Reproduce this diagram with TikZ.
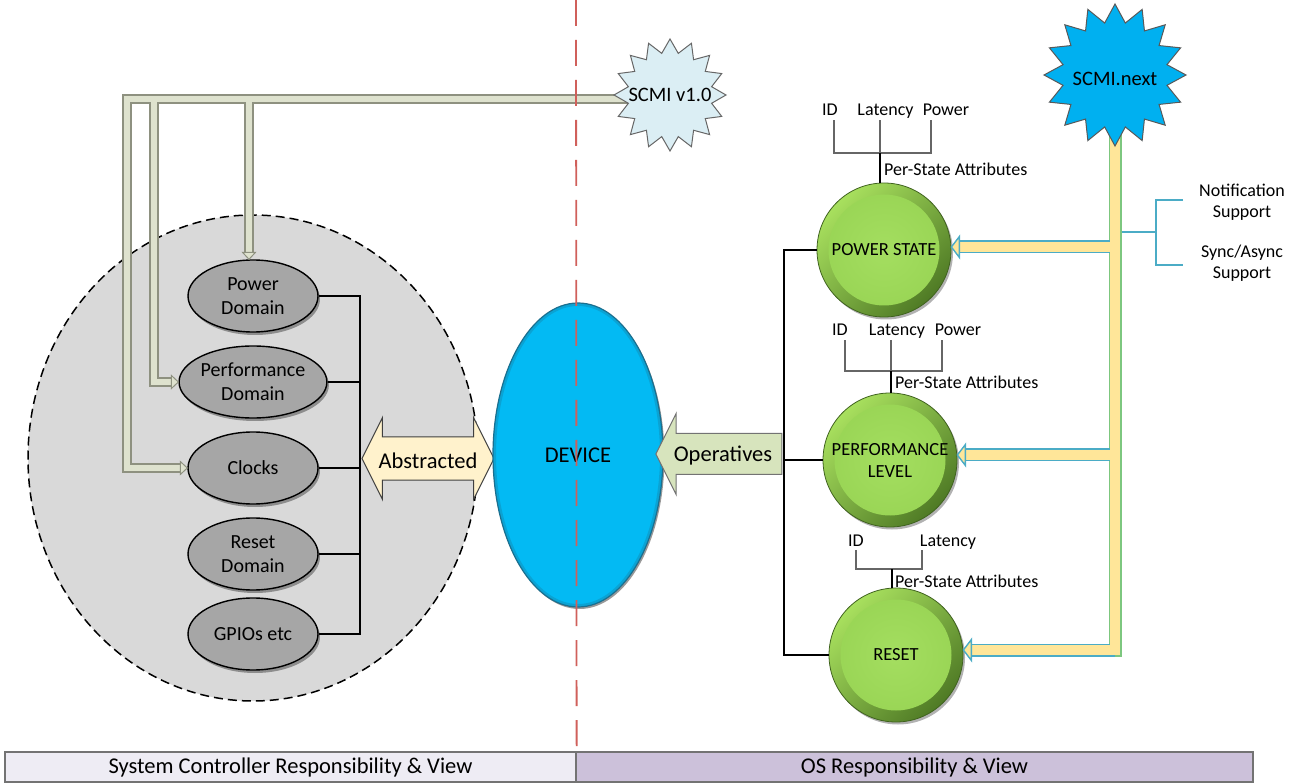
\documentclass[tikz,border=0pt]{standalone}
\usepackage{fontspec}
\setmainfont{Carlito}
\usetikzlibrary{shapes.geometric,shapes.arrows,shadows,calc}
\definecolor{bigfill}{HTML}{D9D9D9}
\definecolor{ellfill}{HTML}{A6A6A6}
\definecolor{devfill}{HTML}{03BAF3}
\definecolor{devedge}{HTML}{1B6F8F}
\definecolor{abfill}{HTML}{FFF2CC}
\definecolor{opfill}{HTML}{D7E4BD}
\definecolor{pipefill}{HTML}{DEE2CE}
\definecolor{pipeedge}{HTML}{8E9180}
\definecolor{ypipe}{HTML}{FFE699}
\definecolor{ygreen}{HTML}{7DC77F}
\definecolor{yblue}{HTML}{4BACC6}
\definecolor{nextfill}{HTML}{00B0F0}
\definecolor{v1fill}{HTML}{DBEEF4}
\definecolor{barL}{HTML}{EEECF4}
\definecolor{barR}{HTML}{CCC1DA}
\definecolor{redline}{HTML}{D0605B}
\definecolor{glight}{HTML}{A8E05E}
\definecolor{gdark}{HTML}{4F7A25}
\definecolor{ginner}{HTML}{98D454}
\definecolor{ginner2}{HTML}{A4DE60}
\begin{document}
\begin{tikzpicture}[x=1pt,y=-1pt,
  lbl/.style={inner sep=0pt, font=\fontsize{18}{21}\selectfont},
  attr/.style={lbl, text height=12pt, text depth=4pt},
  mlbl/.style={inner sep=0pt, align=center, font=\fontsize{18}{20.5}\selectfont},
  bigtxt/.style={inner sep=0pt, font=\fontsize{22.5}{26}\selectfont},
  scregion/.style={ellipse, draw=black, dash pattern=on 9pt off 5pt, line width=1.5pt, fill=bigfill, minimum width=450pt, minimum height=486pt, inner sep=0pt},
  comp/.style={ellipse, draw=black, line width=1.4pt, fill=ellfill, minimum width=130pt, minimum height=72pt, inner sep=0pt, align=center, font=\fontsize{20}{24}\selectfont, drop shadow={shadow xshift=2pt, shadow yshift=-3pt, opacity=0.35, fill=black}},
  bus/.style={draw=black, line width=1.4pt},
  rbus/.style={draw=black, line width=2pt},
  brk/.style={draw=black!60, line width=1.1pt},
  stem/.style={draw=black, line width=1.4pt},
  pipeout/.style={draw=pipeedge, line width=9.5pt},
  pipein/.style={draw=pipefill, line width=6.5pt},
  pipehead/.style={fill=pipefill, draw=pipeedge, line width=1pt, line join=miter},
  yout/.style={draw=ygreen, line width=13pt},
  youtb/.style={draw=yblue, line width=13pt},
  yin/.style={draw=ypipe, line width=10pt},
  yhead/.style={fill=ypipe, draw=yblue, line width=1.4pt},
  bluebr/.style={draw=yblue, line width=1.6pt},
  device/.style={ellipse, minimum width=170pt, minimum height=304pt, inner sep=0pt, fill=devfill, draw=devedge, line width=1.2pt, font=\fontsize{22.5}{26}\selectfont,
    path picture={
      \draw[devedge, line width=6pt, opacity=0.3] (path picture bounding box.center) ellipse[x radius=85pt, y radius=152pt];
    },
    drop shadow={shadow xshift=1.5pt, shadow yshift=-2pt, opacity=0.4, fill=black}},
  dblarrow/.style={double arrow, double arrow head extend=19.5pt, double arrow tip angle=127, minimum height=132pt, minimum width=81pt, inner xsep=0pt, inner ysep=21pt, fill=abfill, draw=black!75, line width=1pt},
  oparrow/.style={single arrow, shape border rotate=180, single arrow head extend=20pt, single arrow tip angle=127, minimum height=126pt, minimum width=80pt, inner xsep=0pt, inner ysep=20pt, fill=opfill, draw=black!55, line width=1pt},
  gcirc/.style={circle, minimum size=134pt, inner sep=0pt, draw=gdark!80!black, line width=0.8pt, top color=glight, bottom color=gdark, shading angle=45, align=center, font=\fontsize{18.5}{22}\selectfont, path picture={\shade[inner color=ginner2, outer color=ginner] (path picture bounding box.center) circle[radius=55.5pt];}, drop shadow={shadow xshift=2pt, shadow yshift=-2.5pt, opacity=0.3, fill=black}},
  starv/.style={star, star points=16, star point ratio=1.32, minimum size=112pt, inner sep=0pt, fill=v1fill, draw=black!60, line width=1pt},
  starn/.style={star, star points=16, star point ratio=1.34, minimum size=142pt, inner sep=0pt, fill=nextfill, draw=black!65, line width=1pt},
  startxt/.style={inner sep=0pt, font=\fontsize{20.5}{24}\selectfont},
  barl/.style={rectangle, minimum width=571pt, minimum height=30pt, inner sep=0pt, fill=barL, draw=black!55, line width=1.3pt, font=\fontsize{22.5}{26}\selectfont},
  barr/.style={barl, minimum width=677pt, fill=barR},
  divider/.style={draw=redline, line width=1.8pt, dash pattern=on 26pt off 14pt},
]
\useasboundingbox (0,0) rectangle (1299,783);

% System controller region
\node[scregion] (sc) at (253,458) {};

\node[comp] (pwr) at (253,296) {Power\\Domain};
\node[comp] (perf) at (253,382) {Performance\\Domain};
\node[comp] (clk) at (253,468) {Clocks};
\node[comp] (rst) at (253,554) {Reset\\Domain};
\node[comp] (gpio) at (253,634) {GPIOs etc};

\coordinate (lb) at (360,0);
\draw[bus] (pwr.east) -- (lb |- pwr.east) -- (lb |- gpio.east) -- (gpio.east);
\foreach \n in {perf,clk,rst} \draw[bus] (\n.east) -- (lb |- \n.east);

% pipes from SCMI v1.0
\coordinate (v1c) at (670,95);
\coordinate (c1) at (127,99);
\coordinate (c2) at (154,99);
\coordinate (c3) at (249,99);
\foreach \s in {pipeout,pipein}{
  \draw[\s] (v1c |- c1) -- (c1) |- ($(clk.west)+(-7,0)$);
  \draw[\s] (c2) |- ($(perf.west)+(-7,0)$);
  \draw[\s] (c3) -- ($(c3 |- pwr.north)+(0,-7)$);
}
\filldraw[pipehead] (clk.west) -- ++(-7,-6.5) -- ++(0,13) -- cycle;
\filldraw[pipehead] (perf.west) -- ++(-7,-6.5) -- ++(0,13) -- cycle;
\filldraw[pipehead] (c3 |- pwr.north) -- ++(-6.5,-7) -- ++(13,0) -- cycle;

\node[starv] (v1) at (v1c) {};
\node[startxt] (v1t) at (v1.center) {SCMI v1.0};

% Abstracted / device / operatives
\node[dblarrow] (abs) at (428,458.5) {};
\node[bigtxt, anchor=base] (abst) at ($(abs.center)+(0,9.5)$) {Abstracted};
\node[device] (dev) at (578,455) {DEVICE};
\node[oparrow] (ops) at (724,454) {};
\node[bigtxt, anchor=base] (opst) at ($(ops.center)+(-1,8)$) {Operatives};

% OS side circles
\node[gcirc] (ps) at (884,250) {POWER STATE};
\node[gcirc] (pl) at (890,460) {PERFORMANCE\\LEVEL};
\node[gcirc] (rs) at (896,655) {RESET};

\coordinate (rb) at (784,0);
\draw[rbus] (ps.west) -- (rb |- ps.west) -- (rb |- rs.west) -- (rs.west);
\draw[rbus] (pl.west) -- (rb |- pl.west);

% attribute trees
\node[attr] (id1) at (830,112) {ID};
\node[attr] (la1) at (885.5,112) {Latency};
\node[attr] (pw1) at (946,112) {Power};
\coordinate (j1) at (880,153);
\draw[brk] ($(id1.south)+(4,0)$) |- (j1) -| ($(pw1.south)+(-15,0)$);
\draw[brk] (j1) -- (j1 |- la1.south);
\draw[stem] (j1) -- (j1 |- ps.north);
\node[lbl, anchor=base west] (pa1) at (884,176) {Per-State Attributes};

\node[attr] (id2) at (840,332) {ID};
\node[attr] (la2) at (897,332) {Latency};
\node[attr] (pw2) at (958,332) {Power};
\coordinate (j2) at (891,371);
\draw[brk] ($(id2.south)+(5,0)$) |- (j2) -| ($(pw2.south)+(-16,0)$);
\draw[brk] (j2) -- (j2 |- la2.south);
\draw[stem] (j2) -- (j2 |- pl.north);
\node[lbl, anchor=base west] (pa2) at (895,389) {Per-State Attributes};

\node[attr] (id3) at (856,542) {ID};
\node[attr] (la3) at (948,542) {Latency};
\coordinate (j3) at (892,569);
\draw[brk] (id3.south) |- (j3) -| ($(la3.south)+(-26,0)$);
\draw[stem] (j3) -- (j3 |- rs.north);
\node[lbl, anchor=base west] (pa3) at (895,587) {Per-State Attributes};

% SCMI.next pipes
\coordinate (nx) at (1115,75);
\coordinate (bps) at ($(ps.east)+(0,-3)$);
\coordinate (bpl) at ($(pl.east)+(0,-5)$);
\coordinate (brs) at ($(rs.east)+(0,-5)$);
\draw[yout, line cap=rect] (nx) -- (nx |- brs);
\foreach \b in {bps,bpl,brs} \draw[youtb] (nx |- \b) -- ($(\b)+(8,0)$);
\draw[yin, line cap=rect] (nx) -- (nx |- brs);
\foreach \b in {bps,bpl,brs} \draw[yin] (nx |- \b) -- ($(\b)+(8,0)$);
\foreach \b in {bps,bpl,brs} \filldraw[yhead] (\b) -- ++(8,-10.5) -- ++(0,21) -- cycle;

\node[starn] (next) at (nx) {};
\node[startxt] (nextt) at ($(next.center)+(0,4)$) {SCMI.next};

% notification bracket
\node[mlbl] (nt) at (1242,202) {Notification\\Support};
\node[mlbl] (sy) at (1242,263) {Sync/Async\\Support};
\coordinate (bk) at (1156,232);
\coordinate (armx) at (1183,0);
\draw[bluebr] ($(nx |- bk)+(6.5,0)$) -- (bk);
\draw[bluebr] ($(armx |- nt)+(0,-2)$) -| (bk) |- ($(armx |- sy)+(0,2)$);

% bottom bars and divider
\node[barl] (sys) at (290.5,767) {System Controller Responsibility \& View};
\node[barr] (os) at (914.5,767) {OS Responsibility \& View};
\coordinate (dtop) at (576,0);
\draw[divider] (dtop) -- (sys.north east);
\end{tikzpicture}
\end{document}
